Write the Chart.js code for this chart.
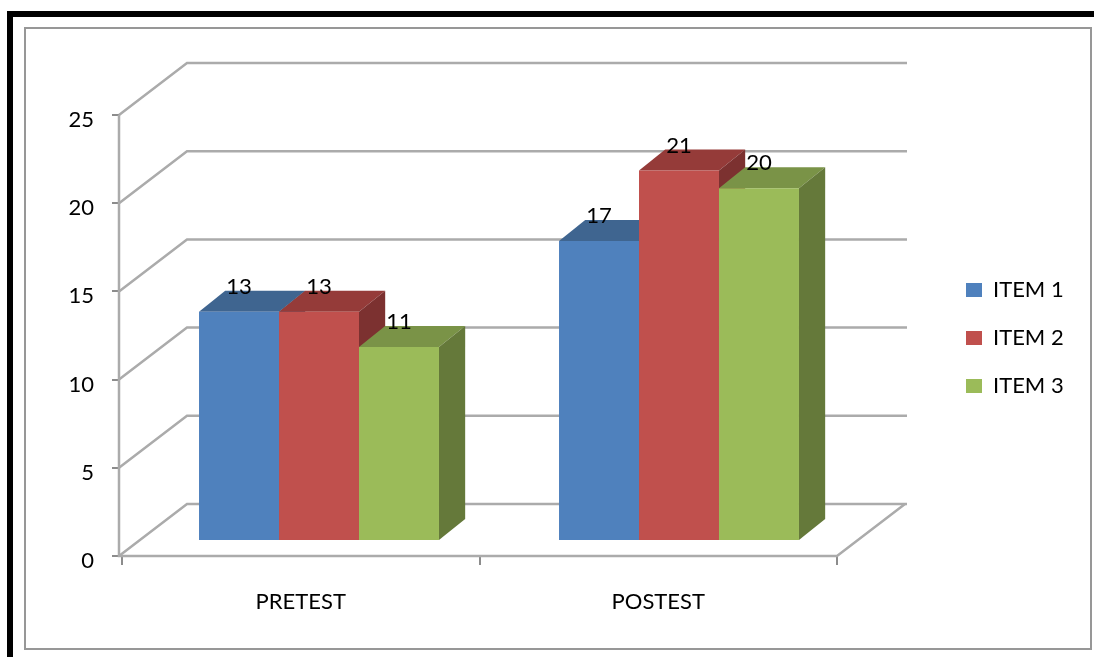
<!DOCTYPE html>
<html>
<head>
<meta charset="utf-8">
<title>Pretest / Posttest</title>
<script src="https://cdn.jsdelivr.net/npm/chart.js@4"></script>
<style>
  html, body { margin: 0; padding: 0; background: #fff; overflow: hidden; }
  #page { position: absolute; left: 7px; top: 11px; right: 0; bottom: 0; border-left: 6px solid #000; border-top: 6px solid #000; }
  #frame { position: absolute; left: 24px; top: 27px; width: 1064px; height: 619px; border: 2px solid #979797; }
  #myChart { position: absolute; left: 0; top: 0; }
</style>
</head>
<body>
<div id="page"></div>
<div id="frame"></div>
<canvas id="myChart" width="1094" height="657"></canvas>
<script>
const categories = ['PRETEST', 'POSTEST'];
const item1 = [13, 17];
const item2 = [13, 21];
const item3 = [11, 20];
const seriesNames = ['ITEM 1', 'ITEM 2', 'ITEM 3'];
const yTicks = [0, 5, 10, 15, 20, 25];

const frontColors = ['#4f81bd', '#c0504d', '#9bbb59'];
const topColors = ['#3f6590', '#953b39', '#7a9347'];
const sideColors = ['#345478', '#7c3130', '#65793a'];

const gridColor = '#ababab';
const fontName = 'Lato, sans-serif';

// how far the back wall sits behind the axis plane
const wallDx = 68, wallDy = -52;
// how far the bar tops run back
const barDx = 26, barDy = -21;

// bars stand on the floor, in front of the back wall
function barPlane(ctx) {
  ctx.translate(16.15, -15);
  ctx.scale(1.00699, 1);
}

const walls3d = {
  id: 'walls3d',
  afterLayout(chart) {
    const lg = chart.legend;
    lg.left = 940; lg.right = 1090;
    lg.top = 253; lg.bottom = 500;
  },
  beforeDatasetsDraw(chart) {
    const {ctx, chartArea, scales} = chart;
    const axisX = chartArea.left - 3;
    const right = chartArea.right;
    ctx.save();
    ctx.strokeStyle = gridColor;
    ctx.lineWidth = 2.5;
    yTicks.forEach(v => {
      const y = scales.y.getPixelForValue(v);
      ctx.beginPath();
      ctx.moveTo(axisX, y);
      ctx.lineTo(axisX + wallDx, y + wallDy);
      ctx.lineTo(right + wallDx + 2, y + wallDy);
      ctx.stroke();
    });
    // y axis and floor
    const y0 = scales.y.getPixelForValue(0);
    ctx.beginPath();
    ctx.moveTo(axisX, scales.y.getPixelForValue(25));
    ctx.lineTo(axisX, y0);
    ctx.lineTo(right, y0);
    ctx.lineTo(right + wallDx, y0 + wallDy);
    ctx.stroke();
    ctx.restore();

    ctx.save();
    barPlane(ctx);
    // top and side faces go left to right, the library then paints the fronts over them
    chart.data.datasets.forEach((ds, i) => {
      chart.getDatasetMeta(i).data.forEach(bar => {
        const l = bar.x - bar.width / 2, r = bar.x + bar.width / 2;
        ctx.fillStyle = topColors[i];
        ctx.beginPath();
        ctx.moveTo(l, bar.y);
        ctx.lineTo(l + barDx, bar.y + barDy);
        ctx.lineTo(r + barDx, bar.y + barDy);
        ctx.lineTo(r, bar.y);
        ctx.fill();
        ctx.fillStyle = sideColors[i];
        ctx.beginPath();
        ctx.moveTo(r, bar.y);
        ctx.lineTo(r + barDx, bar.y + barDy);
        ctx.lineTo(r + barDx, bar.base + barDy);
        ctx.lineTo(r, bar.base);
        ctx.fill();
      });
    });
  },
  afterDatasetsDraw(chart) {
    const {ctx} = chart;
    // value labels sit above the top face
    ctx.fillStyle = '#000';
    ctx.font = '22px ' + fontName;
    ctx.textAlign = 'center';
    ctx.textBaseline = 'middle';
    chart.data.datasets.forEach((ds, i) => {
      chart.getDatasetMeta(i).data.forEach((bar, j) => {
        ctx.fillText(ds.data[j], bar.x, bar.y - 25);
      });
    });
    ctx.restore();
  }
};

const seriesValues = [item1, item2, item3];
const datasets = seriesNames.map((name, i) => ({
  label: name,
  data: seriesValues[i],
  backgroundColor: frontColors[i],
  clip: false
}));

new Chart(document.getElementById('myChart'), {
  type: 'bar',
  data: {labels: categories, datasets: datasets},
  plugins: [walls3d],
  options: {
    responsive: false,
    animation: false,
    events: [],
    categoryPercentage: 238.3 / 357.5,
    barPercentage: 1,
    layout: {padding: {left: 0, right: 257, top: 115, bottom: 41}},
    plugins: {
      legend: {
        position: 'chartArea',
        align: 'start',
        labels: {
          color: '#000',
          font: {family: fontName, size: 22},
          boxWidth: 16,
          boxHeight: 14,
          padding: 26
        }
      },
      tooltip: {enabled: false}
    },
    scales: {
      x: {
        afterFit(scale) { scale.height = 60; },
        grid: {offset: true, drawOnChartArea: false, color: '#8c8c8c', lineWidth: 2, tickLength: 9},
        border: {display: false},
        ticks: {color: '#000', font: {family: fontName, size: 22}, padding: 24, maxRotation: 0}
      },
      y: {
        min: 0,
        max: 25,
        afterFit(scale) { scale.width = 122; },
        grid: {drawOnChartArea: false, color: '#8c8c8c', lineWidth: 2, tickLength: 10, tickBorderDash: [7, 20]},
        border: {display: false},
        ticks: {
          stepSize: 5,
          color: '#000',
          font: {family: fontName, size: 22, lineHeight: 0.45},
          padding: 18,
          // empty first line pushes the number a few pixels under its tick
          callback: v => ['', v]
        }
      }
    }
  }
});
</script>
</body>
</html>
